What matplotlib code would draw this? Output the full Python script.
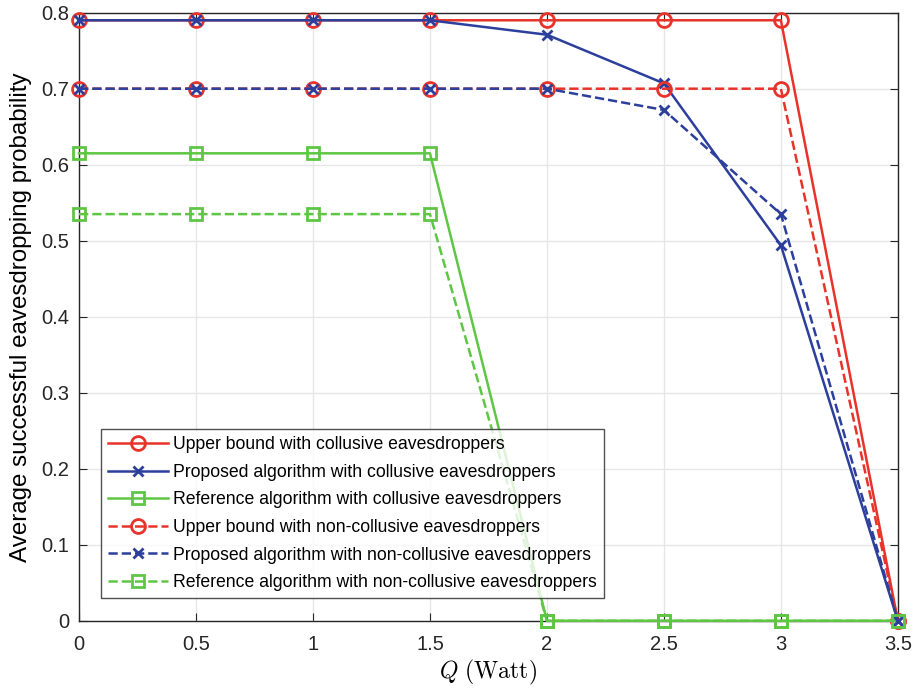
import numpy as np
import matplotlib.pyplot as plt

plt.rcParams['font.family'] = ['Liberation Sans', 'DejaVu Sans']
plt.rcParams['mathtext.fontset'] = 'cm'

# данные
Q = [0, 0.5, 1, 1.5, 2, 2.5, 3, 3.5]
upper_coll = [0.79, 0.79, 0.79, 0.79, 0.79, 0.79, 0.79, 0]
prop_coll = [0.79, 0.79, 0.79, 0.79, 0.771, 0.707, 0.494, 0]
ref_coll = [0.615, 0.615, 0.615, 0.615, 0, 0, 0, 0]
upper_non = [0.70, 0.70, 0.70, 0.70, 0.70, 0.70, 0.70, 0]
prop_non = [0.70, 0.70, 0.70, 0.70, 0.70, 0.672, 0.535, 0]
ref_non = [0.535, 0.535, 0.535, 0.535, 0, 0, 0, 0]

labels = ['Upper bound with collusive eavesdroppers',
          'Proposed algorithm with collusive eavesdroppers',
          'Reference algorithm with collusive eavesdroppers',
          'Upper bound with non-collusive eavesdroppers',
          'Proposed algorithm with non-collusive eavesdroppers',
          'Reference algorithm with non-collusive eavesdroppers']

red = '#E8332B'
blue = '#2C3F9C'
green = '#5EC644'

fig = plt.figure(figsize=(9.19, 6.89), dpi=100)
ax = fig.add_axes([0.086, 0.099, 0.891, 0.8826])

series = [
    (upper_coll, red, 'o', '-'),
    (prop_coll, blue, 'x', '-'),
    (ref_coll, green, 's', '-'),
    (upper_non, red, 'o', '--'),
    (prop_non, blue, 'x', '--'),
    (ref_non, green, 's', '--'),
]
for (vals, c, m, ls), lab in zip(series, labels):
    ms = {'o': 10, 'x': 7, 's': 8}[m]
    ax.plot(Q, vals, color=c, marker=m, linestyle=ls, linewidth=1.8,
            markersize=ms, markerfacecolor='none', markeredgewidth=2,
            label=lab, clip_on=False, zorder=3)

ax.set_xlim(0, 3.5)
ax.set_ylim(0, 0.8)
ax.set_xticks(Q)
ax.set_xticklabels(['0', '0.5', '1', '1.5', '2', '2.5', '3', '3.5'])
ax.set_yticks(np.arange(0, 0.81, 0.1))
ax.set_yticklabels(['0', '0.1', '0.2', '0.3', '0.4', '0.5', '0.6', '0.7', '0.8'])
ax.grid(True, color='#e6e6e6', linewidth=1)
ax.set_axisbelow(True)
ax.tick_params(direction='in', top=True, right=True, labelsize=14.5,
               colors='#262626', length=6)
ax.tick_params(axis='x', pad=10)
ax.tick_params(axis='y', pad=7)
for s in ax.spines.values():
    s.set_color('#262626')
    s.set_linewidth(1)

ax.set_xlabel(r'$Q\ \mathrm{(Watt)}$', fontsize=17, labelpad=3)
ax.set_ylabel('Average successful eavesdropping probability', fontsize=17.4, labelpad=7)

leg = ax.legend(loc='lower left', bbox_to_anchor=(0.027, 0.037), fontsize=12.7,
                frameon=True, fancybox=False, edgecolor='#262626',
                handlelength=3.4, borderpad=0.4, labelspacing=0.6,
                handletextpad=0.3, borderaxespad=0)
leg.get_frame().set_linewidth(1)

plt.savefig('out.png', dpi=100)
